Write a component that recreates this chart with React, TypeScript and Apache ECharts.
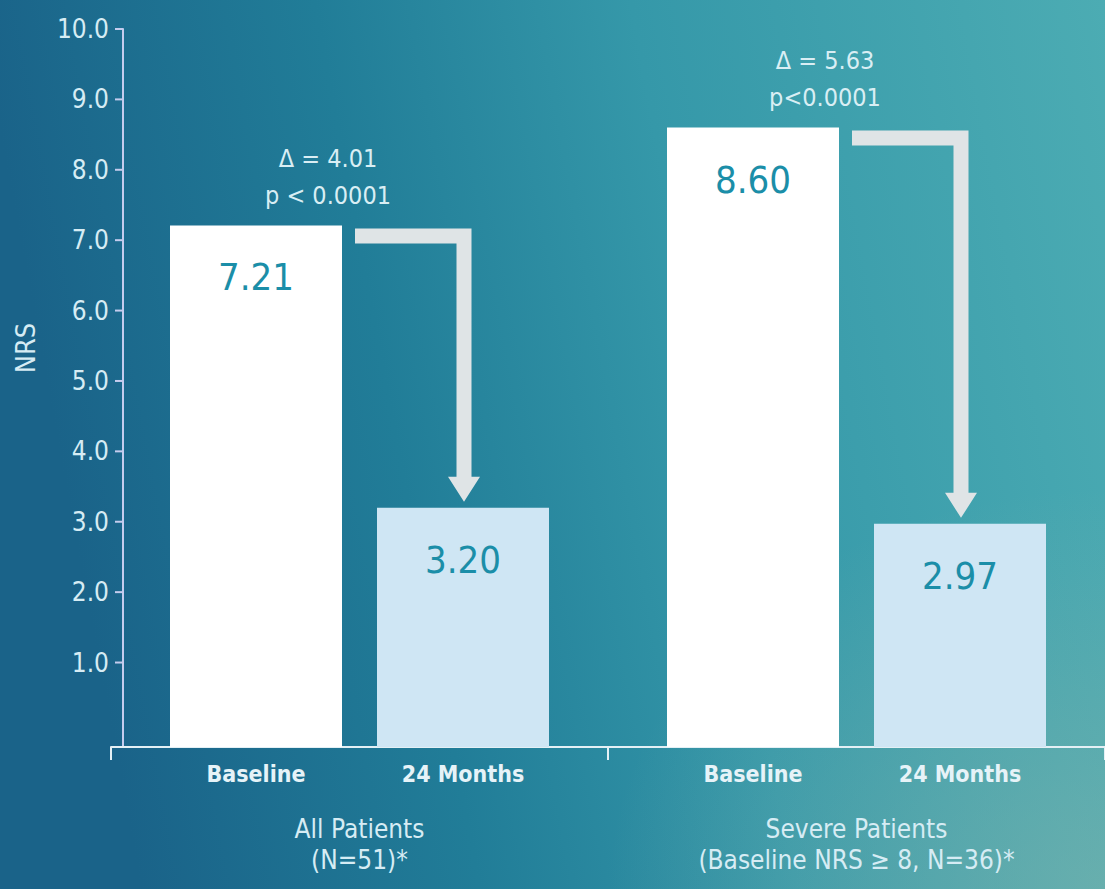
import React, { useEffect, useRef } from "react";
import * as echarts from "echarts";

const groups = ["All Patients", "Severe Patients"];
const groupNotes = ["(N=51)*", "(Baseline NRS \u2265 8, N=36)*"];
const seriesNames = ["Baseline", "24 Months"];
const baseline = [7.21, 8.6];
const month24 = [3.2, 2.97];
const deltas = ["\u0394 = 4.01", "\u0394 = 5.63"];
const pValues = ["p < 0.0001", "p<0.0001"];

const FONT = "'Liberation Sans Narrow', 'Arial Narrow', 'DejaVu Sans Condensed', sans-serif";
const BAR_W = 172;
const GAP = 35;
const LIGHT = "#d6ecf4";

export default function App() {
  const ref = useRef<HTMLDivElement>(null);
  useEffect(() => {
    if (!ref.current) return;
    const chart = echarts.init(ref.current, null, { renderer: "svg" });
    const valueLabel = {
      show: true,
      position: "insideTop",
      distance: 33,
      fontSize: 38,
      fontFamily: FONT,
      color: "#1b8ea8",
      formatter: (p: any) => Number(p.value).toFixed(2),
    };
    const option: any = {
      animation: false,
      backgroundColor: new echarts.graphic.LinearGradient(0, 0.15, 1, 0, [
        { offset: 0, color: "#1a6389" },
        { offset: 0.3, color: "#217d98" },
        { offset: 0.58, color: "#3598a9" },
        { offset: 1, color: "#4cacb3" },
      ]),
      graphic: [
        {
          type: "rect",
          z: -10,
          silent: true,
          shape: { x: 0, y: 0, width: 1105, height: 889 },
          style: {
            fill: new echarts.graphic.RadialGradient(1, 1, 0.45, [
              { offset: 0, color: "rgba(140,185,172,0.5)" },
              { offset: 1, color: "rgba(140,185,172,0)" },
            ]),
          },
        },
      ],
      grid: { left: 111, right: 0, top: 29, bottom: 142, outerBoundsMode: "none" },
      xAxis: {
        type: "category",
        data: groups,
        axisLine: { onZero: false, lineStyle: { color: "#e4f0f5", width: 2 } },
        axisTick: { show: true, length: 13, lineStyle: { color: "#e4f0f5", width: 2 } },
        axisLabel: {
          interval: 0,
          margin: 12,
          formatter: (v: string, i: number) =>
            `{sub|${seriesNames[0]}}{sub|${seriesNames[1]}}\n{sp|}\n{grp|${v}}\n{grp|${groupNotes[i]}}`,
          rich: {
            sub: {
              width: 207,
              align: "center",
              fontSize: 23,
              fontWeight: "bold",
              fontFamily: FONT,
              color: "#e6f3f8",
              lineHeight: 30,
            },
            sp: { lineHeight: 24, fontSize: 10 },
            grp: {
              width: 414,
              align: "center",
              fontSize: 26,
              fontFamily: FONT,
              color: LIGHT,
              lineHeight: 31,
            },
          },
        },
      },
      yAxis: {
        type: "value",
        min: -0.2,
        max: 10,
        splitNumber: 10,
        minInterval: 1,
        maxInterval: 1,
        startValue: -0.2,
        offset: -12,
        name: "NRS",
        nameLocation: "middle",
        nameRotate: 90,
        nameGap: 84,
        nameTextStyle: {
          fontSize: 27,
          fontFamily: FONT,
          color: LIGHT,
          padding: [0, 0, 0, 80],
        },
        axisLine: { show: true, lineStyle: { color: "#c5ccee", width: 2 } },
        axisTick: { show: false },
        splitLine: { show: false },
        axisLabel: {
          margin: 0,
          formatter: (v: number) => (v >= 1 ? `{n|${v.toFixed(1)}}{t|}` : ""),
          rich: {
            n: { fontSize: 26, fontFamily: FONT, color: LIGHT, padding: [0, 6, 0, 0] },
            t: { width: 8, height: 2, backgroundColor: "#c5ccee" },
          },
        },
      },
      series: [
        {
          type: "bar",
          name: seriesNames[0],
          data: baseline,
          barWidth: BAR_W,
          barGap: `${(GAP / BAR_W) * 100}%`,
          itemStyle: { color: "#ffffff" },
          label: valueLabel,
        },
        {
          type: "bar",
          name: seriesNames[1],
          data: month24,
          barWidth: BAR_W,
          barGap: `${(GAP / BAR_W) * 100}%`,
          itemStyle: { color: "#cfe6f4" },
          label: valueLabel,
        },
        {
          type: "custom",
          silent: true,
          clip: false,
          z: 3,
          encode: { x: 0, y: 1 },
          data: groups.map((_, i) => [i, baseline[i], month24[i]]),
          renderItem: (params: any, api: any) => {
            const i = api.value(0);
            const b = api.value(1);
            const m = api.value(2);
            const pb = api.coord([i, b]);
            const pm = api.coord([i, m]);
            const cx = pb[0];
            const bRight = cx - GAP / 2;
            const sx = cx + GAP / 2 + BAR_W / 2 + 1;
            const top = pb[1] + 3;
            const t = 15;
            const hw = 16;
            const tip = pm[1] - 6;
            const headY = tip - 25;
            const x0 = bRight + 13;
            const points = [
              [x0, top],
              [sx + t / 2, top],
              [sx + t / 2, headY],
              [sx + hw, headY],
              [sx, tip],
              [sx - hw, headY],
              [sx - t / 2, headY],
              [sx - t / 2, top + t],
              [x0, top + t],
            ];
            const tx = bRight - 14;
            const textStyle = {
              fill: "#d9eef4",
              fontSize: 25,
              fontFamily: FONT,
              align: "center",
              verticalAlign: "middle",
            };
            return {
              type: "group",
              children: [
                { type: "polygon", shape: { points }, style: { fill: "#dfe4e6" } },
                { type: "text", style: { ...textStyle, text: deltas[params.dataIndex], x: tx, y: top - 70 } },
                { type: "text", style: { ...textStyle, text: pValues[params.dataIndex], x: tx, y: top - 33 } },
              ],
            };
          },
        },
      ],
    };
    chart.setOption(option);
    return () => chart.dispose();
  }, []);
  return (
    <div
      ref={ref}
      style={{ position: "fixed", left: 0, top: 0, width: 1105, height: 889 }}
    />
  );
}
